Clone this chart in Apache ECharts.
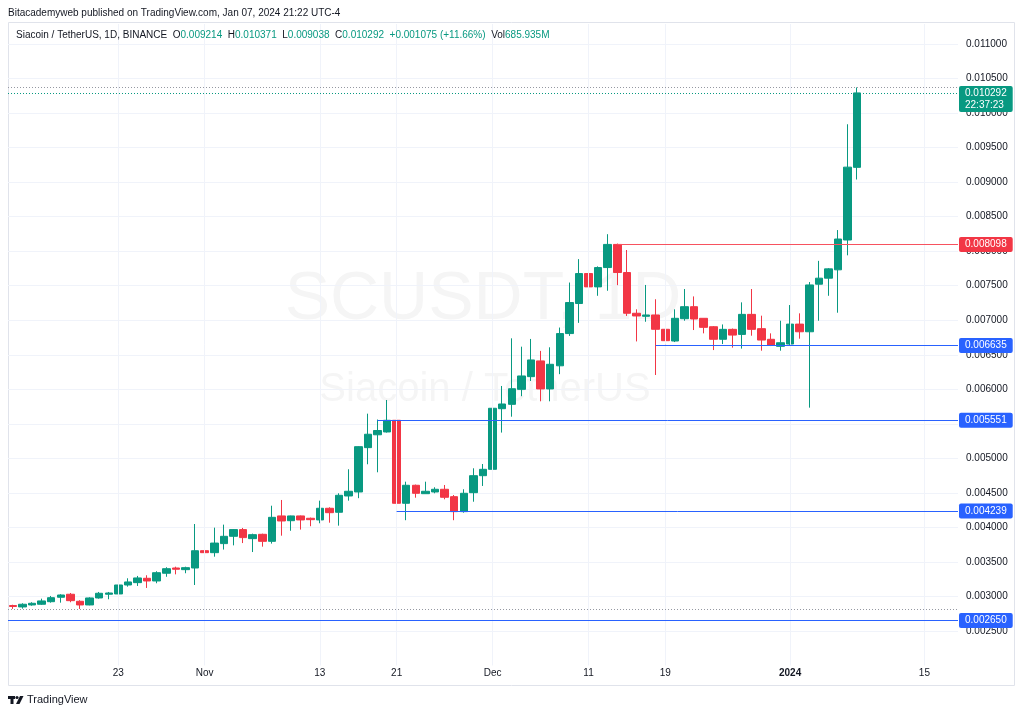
<!DOCTYPE html>
<html>
<head>
<meta charset="utf-8">
<script src="https://cdn.jsdelivr.net/npm/echarts/dist/echarts.min.js"></script>
<style>
html,body{margin:0;padding:0;background:#fff;}
#chart{width:1024px;height:716px;}
</style>
</head>
<body>
<div id="chart"></div>
<script>
// ---------- DATA ----------
const dates = [
 '2023-10-12','2023-10-13','2023-10-14','2023-10-15','2023-10-16','2023-10-17','2023-10-18','2023-10-19','2023-10-20','2023-10-21',
 '2023-10-22','2023-10-23','2023-10-24','2023-10-25','2023-10-26','2023-10-27','2023-10-28','2023-10-29','2023-10-30','2023-10-31',
 '2023-11-01','2023-11-02','2023-11-03','2023-11-04','2023-11-05','2023-11-06','2023-11-07','2023-11-08','2023-11-09','2023-11-10',
 '2023-11-11','2023-11-12','2023-11-13','2023-11-14','2023-11-15','2023-11-16','2023-11-17','2023-11-18','2023-11-19','2023-11-20',
 '2023-11-21','2023-11-22','2023-11-23','2023-11-24','2023-11-25','2023-11-26','2023-11-27','2023-11-28','2023-11-29','2023-11-30',
 '2023-12-01','2023-12-02','2023-12-03','2023-12-04','2023-12-05','2023-12-06','2023-12-07','2023-12-08','2023-12-09','2023-12-10',
 '2023-12-11','2023-12-12','2023-12-13','2023-12-14','2023-12-15','2023-12-16','2023-12-17','2023-12-18','2023-12-19','2023-12-20',
 '2023-12-21','2023-12-22','2023-12-23','2023-12-24','2023-12-25','2023-12-26','2023-12-27','2023-12-28','2023-12-29','2023-12-30',
 '2023-12-31','2024-01-01','2024-01-02','2024-01-03','2024-01-04','2024-01-05','2024-01-06','2024-01-07','2024-01-08'
];
// empty future days shown at the right of the time scale
const futureDates = ['2024-01-09','2024-01-10','2024-01-11','2024-01-12','2024-01-13','2024-01-14','2024-01-15','2024-01-16','2024-01-17','2024-01-18'];

const openVals = [
 0.002868,0.002848,0.002877,0.002887,0.002924,0.002988,0.003032,0.002930,0.002877,0.002978,
 0.003032,0.003036,0.003166,0.003200,0.003263,0.003224,0.003336,0.003412,0.003388,0.003412,
 0.003663,0.003634,0.003765,0.003871,0.003968,0.003837,0.003900,0.003798,0.004166,0.004097,
 0.004166,0.004132,0.004108,0.004277,0.004219,0.004455,0.004513,0.005155,0.005341,0.005382,
 0.005551,0.004349,0.004610,0.004488,0.004513,0.004552,0.004445,0.004228,0.004503,0.004749,
 0.004841,0.005719,0.005782,0.005999,0.006183,0.006411,0.006005,0.006340,0.006807,0.007242,
 0.007676,0.007483,0.007763,0.008098,0.007691,0.007101,0.007057,0.007076,0.006869,0.006699,
 0.007022,0.007196,0.007028,0.006906,0.006724,0.006868,0.006795,0.007085,0.006878,0.006724,
 0.006622,0.006655,0.006944,0.006833,0.007522,0.007609,0.007730,0.008162,0.009214
];
const closeVals = [
 0.002855,0.002887,0.002901,0.002935,0.002982,0.003021,0.002939,0.002877,0.002978,0.003046,
 0.003050,0.003166,0.003210,0.003268,0.003224,0.003344,0.003402,0.003394,0.003417,0.003662,
 0.003634,0.003773,0.003871,0.003968,0.003852,0.003895,0.003798,0.004146,0.004093,0.004166,
 0.004108,0.004112,0.004277,0.004213,0.004465,0.004523,0.005169,0.005349,0.005403,0.005551,
 0.004349,0.004610,0.004494,0.004523,0.004552,0.004436,0.004228,0.004494,0.004749,0.004841,
 0.005725,0.005787,0.006008,0.006193,0.006425,0.006005,0.006362,0.006807,0.007256,0.007676,
 0.007483,0.007763,0.008098,0.007691,0.007101,0.007062,0.007076,0.006869,0.006704,0.007028,
 0.007196,0.007018,0.006897,0.006724,0.006868,0.006785,0.007085,0.006868,0.006713,0.006640,
 0.006674,0.006944,0.006833,0.007511,0.007609,0.007744,0.008176,0.009217,0.010292
];
const lowVals = [
 0.002820,0.002823,0.002866,0.002877,0.002910,0.002910,0.002916,0.002819,0.002872,0.002968,
 0.002959,0.003026,0.003142,0.003152,0.003123,0.003191,0.003285,0.003320,0.003336,0.003166,
 0.003423,0.003576,0.003679,0.003740,0.003773,0.003643,0.003721,0.003765,0.003880,0.003951,
 0.003968,0.004017,0.004060,0.004068,0.004025,0.004387,0.004423,0.004914,0.004798,0.005373,
 0.004310,0.004104,0.004430,0.004488,0.004494,0.004407,0.004104,0.004213,0.004372,0.004600,
 0.004820,0.005373,0.005603,0.005900,0.006120,0.005826,0.005826,0.006219,0.006773,0.006962,
 0.007043,0.007354,0.007427,0.007508,0.007062,0.006693,0.006978,0.006207,0.006608,0.006684,
 0.006993,0.006858,0.006810,0.006568,0.006655,0.006603,0.006589,0.006776,0.006559,0.006626,
 0.006559,0.006640,0.006733,0.005734,0.006993,0.007354,0.007109,0.007940,0.009038
];
const highVals = [
 0.002880,0.002901,0.002916,0.002968,0.003007,0.003032,0.003050,0.002945,0.002988,0.003065,
 0.003065,0.003191,0.003263,0.003297,0.003307,0.003365,0.003423,0.003431,0.003431,0.004049,
 0.003798,0.003996,0.004040,0.003975,0.003992,0.003909,0.003909,0.004314,0.004397,0.004170,
 0.004172,0.004142,0.004387,0.004291,0.004494,0.004842,0.005175,0.005647,0.005562,0.005845,
 0.005700,0.004662,0.004620,0.004662,0.004581,0.004614,0.004469,0.004552,0.004856,0.004918,
 0.006193,0.006048,0.006738,0.006617,0.006729,0.006556,0.006608,0.006894,0.007546,0.007885,
 0.007680,0.007780,0.008246,0.008110,0.008017,0.007158,0.007511,0.007304,0.007304,0.007158,
 0.007452,0.007345,0.007028,0.006916,0.006939,0.006880,0.007259,0.007452,0.007066,0.006810,
 0.006993,0.007220,0.007100,0.007553,0.007860,0.007754,0.008306,0.009838,0.010371
];

// time-scale tick labels
const tickDates  = ['2023-10-23','2023-11-01','2023-11-13','2023-11-21','2023-12-01','2023-12-11','2023-12-19','2024-01-01','2024-01-15'];
const tickLabels = ['23','Nov','13','21','Dec','11','19','2024','15'];

// horizontal price levels drawn on the chart (null start = full width)
const levelValues = [0.008098, 0.006635, 0.005551, 0.004239, 0.002650];
const levelStarts = ['2023-12-14','2023-12-18','2023-11-19','2023-11-21', null];
const levelIsRed  = [true, false, false, false, false];

const rangeHigh = 0.010371;
const rangeLow  = 0.002819;
const lastClose = 0.010292;
const countdown = '22:37:23';

const headerText = 'Bitacademyweb published on TradingView.com, Jan 07, 2024 21:22 UTC-4';
const symbolText = 'Siacoin / TetherUS, 1D, BINANCE';
const ohlcLabels = ['O','H','L','C'];
const ohlcValues = ['0.009214','0.010371','0.009038','0.010292'];
const changeText = '+0.001075 (+11.66%)';
const volText = '685.935M';
const watermark1 = 'SCUSDT, 1D';
const watermark2 = 'Siacoin / TetherUS';

// ---------- STYLE ----------
const FONT = '"Liberation Sans", Arial, sans-serif';
const UP = '#089981', DOWN = '#f23645', BLUE = '#2962ff', REDLINE = '#f7525f';
const TEXT = '#131722', GRIDC = '#f0f3fa';
const W = 1024, H = 716;
const G = {left: 8, right: 66, top: 24, bottom: 50.5};
const plotLeftX = G.left;
const plotRightX = W - G.right;

const chart = echarts.init(document.getElementById('chart'), null, {renderer: 'canvas'});
const candleData = dates.map((d, i) => [openVals[i], closeVals[i], lowVals[i], highVals[i]]);
const allCats = dates.concat(futureDates);

function boxLabel(color, text) {
  return {show: true, position: 'end', distance: 1, formatter: text, color: '#fff',
    backgroundColor: color, fontSize: 10, fontFamily: FONT, lineHeight: 11,
    padding: [2, 6], borderRadius: 2};
}
function hLine(v, startCat, lineStyle, label) {
  const start = startCat === null ? {x: plotLeftX, yAxis: v} : {xAxis: startCat, yAxis: v};
  start.lineStyle = lineStyle;
  start.label = label;
  return [start, {x: plotRightX, yAxis: v}];
}

const levelLines = levelValues.map((v, i) => {
  const col = levelIsRed[i] ? DOWN : BLUE;
  const lineCol = levelIsRed[i] ? REDLINE : BLUE;
  return hLine(v, levelStarts[i], {color: lineCol, width: 1, type: 'solid'}, boxLabel(col, v.toFixed(6)));
});

let legendRich = '{n|' + symbolText + '}  ';
ohlcLabels.forEach((l, i) => { legendRich += '{n|' + l + '}{v|' + ohlcValues[i] + '}  '; });
legendRich += '{v|' + changeText + '}  {n|Vol}{v|' + volText + '}';

const option = {
  animation: false,
  backgroundColor: '#ffffff',
  grid: {left: G.left, right: G.right, top: G.top, bottom: G.bottom},
  xAxis: {
    type: 'category', data: allCats, boundaryGap: true,
    axisLine: {show: false}, axisTick: {show: false}, splitLine: {show: false},
    axisLabel: {
      interval: (i, v) => tickDates.indexOf(v) >= 0,
      formatter: v => {
        const k = tickDates.indexOf(v);
        if (k < 0) return '';
        return v.slice(5) === '01-01' ? '{b|' + tickLabels[k] + '}' : tickLabels[k];
      },
      color: TEXT, fontSize: 10, fontFamily: FONT, margin: 3,
      rich: {b: {fontWeight: 'bold', fontSize: 10, fontFamily: FONT, color: TEXT}}
    }
  },
  yAxis: {
    type: 'value', position: 'right', min: 0.002, max: 0.01129, interval: 0.0005,
    axisLine: {show: false}, axisTick: {show: false},
    splitLine: {show: true, showMinLine: false, showMaxLine: false, lineStyle: {color: GRIDC, width: 1}},
    axisLabel: {
      color: TEXT, fontSize: 10, fontFamily: FONT, margin: 8,
      formatter: v => (v < 0.00249 || v > 0.01101) ? '' : v.toFixed(6)
    }
  },
  graphic: [
    {type: 'rect', z: 0, silent: true, shape: {x: 8.5, y: 22.5, width: 1006, height: 663},
      style: {fill: 'none', stroke: '#e0e3eb', lineWidth: 1}},
    {type: 'text', z: 0, silent: true, x: 483, y: 300,
      style: {text: watermark1, font: '68px ' + FONT, fill: 'rgba(19,23,34,0.045)', align: 'center', verticalAlign: 'middle'}},
    {type: 'text', z: 0, silent: true, x: 485, y: 390,
      style: {text: watermark2, font: '40px ' + FONT, fill: 'rgba(19,23,34,0.045)', align: 'center', verticalAlign: 'middle'}},
    {type: 'text', z: 10, silent: true, x: 8, y: 13,
      style: {text: headerText, font: '10px ' + FONT, fill: TEXT, verticalAlign: 'middle'}},
    {type: 'text', z: 10, silent: true, x: 16, y: 35,
      style: {text: legendRich, font: '10px ' + FONT, verticalAlign: 'middle',
        rich: {n: {fill: TEXT, font: '10px ' + FONT}, v: {fill: UP, font: '10px ' + FONT}}}},
    {type: 'group', z: 10, silent: true, children: [
      {type: 'rect', shape: {x: 8, y: 696, width: 7, height: 3}, style: {fill: TEXT}},
      {type: 'rect', shape: {x: 10.5, y: 696, width: 3, height: 8}, style: {fill: TEXT}},
      {type: 'circle', shape: {cx: 17, cy: 697.5, r: 1.6}, style: {fill: TEXT}},
      {type: 'polygon', shape: {points: [[20, 696], [23.5, 696], [19.5, 704], [16, 704]]}, style: {fill: TEXT}}
    ]},
    {type: 'text', z: 10, silent: true, x: 27, y: 700,
      style: {text: 'TradingView', font: '11px ' + FONT, fill: TEXT, verticalAlign: 'middle'}}
  ],
  series: [
    {
      type: 'line', data: [], z: 1, silent: true,
      markLine: {
        symbol: ['none', 'none'], silent: true, animation: false,
        label: {show: false},
        lineStyle: {color: GRIDC, width: 1, type: 'solid'},
        data: tickDates.map(d => ({xAxis: d}))
      }
    },
    {
      type: 'candlestick', name: 'SCUSDT', data: candleData, z: 3, barWidth: 8,
      itemStyle: {color: UP, color0: DOWN, borderColor: UP, borderColor0: DOWN, borderWidth: 1},
      markLine: {
        symbol: ['none', 'none'], silent: true, animation: false,
        data: [
          hLine(rangeHigh, null, {color: '#9598a1', width: 1, type: [1, 2]}, {show: false}),
          hLine(rangeLow, null, {color: '#9598a1', width: 1, type: [1, 2]}, {show: false}),
          hLine(lastClose, null, {color: UP, width: 1, type: [1, 2]},
            {show: true, position: 'end', distance: 1, formatter: lastClose.toFixed(6) + '\n' + countdown,
              color: '#fff', backgroundColor: UP, fontSize: 10, fontFamily: FONT, lineHeight: 12,
              padding: [1, 6], borderRadius: 2, offset: [0, 6]})
        ].concat(levelLines)
      }
    }
  ]
};
chart.setOption(option);
</script>
</body>
</html>
